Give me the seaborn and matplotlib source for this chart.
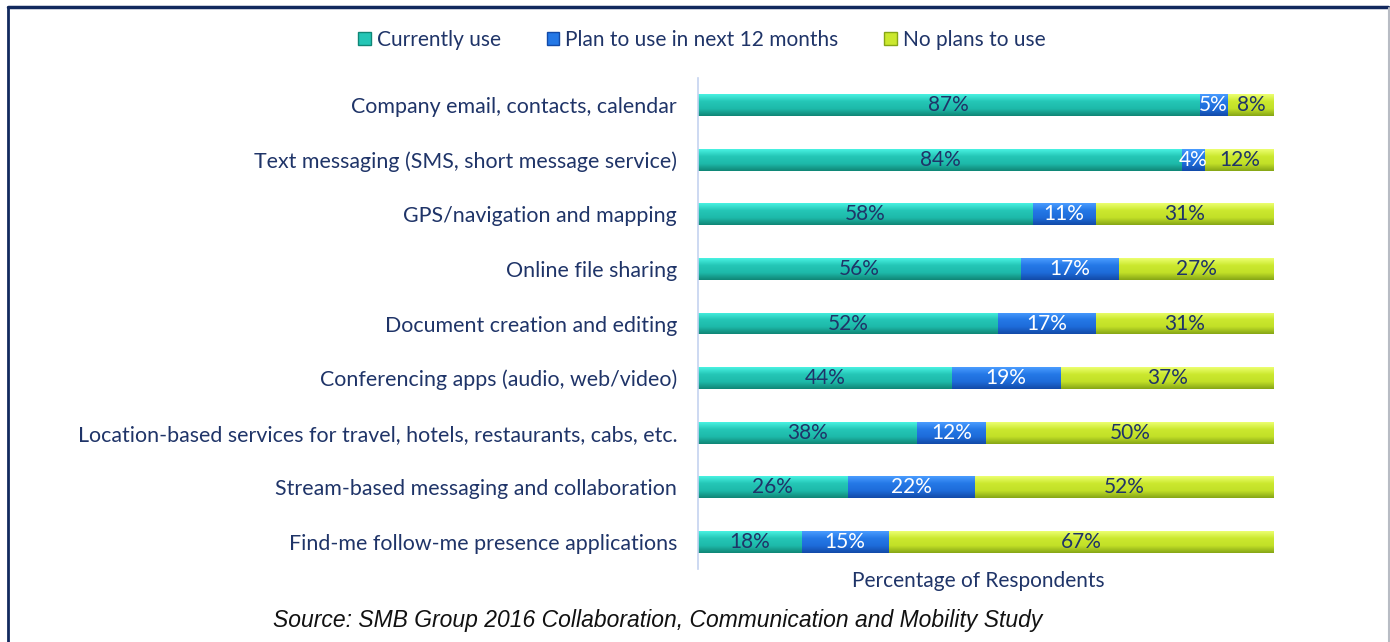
import numpy as np
import pandas as pd
import seaborn as sns
import matplotlib.pyplot as plt
from matplotlib.patches import Patch
from matplotlib.lines import Line2D
from matplotlib.colors import LinearSegmentedColormap

categories = [
    "Company email, contacts, calendar",
    "Text messaging (SMS, short message service)",
    "GPS/navigation and mapping",
    "Online file sharing",
    "Document creation and editing",
    "Conferencing apps (audio, web/video)",
    "Location-based services for travel, hotels, restaurants, cabs, etc.",
    "Stream-based messaging and collaboration",
    "Find-me follow-me presence applications",
]
currently_use = [87, 84, 58, 56, 52, 44, 38, 26, 18]
plan_to_use = [5, 4, 11, 17, 17, 19, 12, 22, 15]
no_plans = [8, 12, 31, 27, 31, 37, 50, 52, 67]
series_names = ["Currently use", "Plan to use in next 12 months", "No plans to use"]

TEAL = "#22C3B3"
BLUE = "#2274E0"
GREEN = "#C6E52C"
NAVY = "#1F3468"
# top -> middle -> bottom shades for the glossy look
shades = {
    GREEN: ["#ECFF70", "#CBE82E", "#C2E028", "#86A616"],
    BLUE: ["#4A9CFF", "#2478E6", "#1E6CDA", "#124AA8"],
    TEAL: ["#48F2E2", "#24C6B6", "#1EBAAA", "#108676"],
}

df = pd.DataFrame({"cat": categories, "cur": currently_use,
                   "plan": plan_to_use, "none": no_plans})
df["cum1"] = df["cur"]
df["cum2"] = df["cur"] + df["plan"]
df["cum3"] = df["cum2"] + df["none"]

sns.set_style("white")
plt.rcParams["font.family"] = ["Lato", "DejaVu Sans"]

fig = plt.figure(figsize=(13.9, 6.42), dpi=100)
ax = fig.add_axes([698 / 1390, 1 - 569 / 642, 576 / 1390, 491 / 642])

# stacked bars: draw the cumulative totals back to front
layers = [("cum3", GREEN), ("cum2", BLUE), ("cum1", TEAL)]
for col, c in layers:
    sns.barplot(data=df, x=col, y="cat", orient="h", color=c, width=0.4,
                linewidth=0, saturation=1, ax=ax)

# gradient fill clipped to each bar
for k, (container, (col, c)) in enumerate(zip(ax.containers, layers)):
    cmap = LinearSegmentedColormap.from_list(col, shades[c])
    grad = np.linspace(0, 1, 64).reshape(-1, 1)
    for p in container:
        x0, y0 = p.get_x(), p.get_y()
        x1, y1 = x0 + p.get_width(), y0 + p.get_height()
        im = ax.imshow(grad, cmap=cmap, aspect="auto", origin="upper",
                       extent=(x0, x1, y1, y0), zorder=1.1 + k * 0.1,
                       interpolation="bilinear")
        im.set_clip_path(p)

# value labels centred in each segment
for i, row in df.iterrows():
    ax.text(row["cur"] / 2, i, f"{row['cur']}%", ha="center", va="center",
            fontsize=15, color=NAVY, zorder=3)
    ax.text(row["cur"] + row["plan"] / 2, i, f"{row['plan']}%", ha="center",
            va="center", fontsize=15, color="white", zorder=3)
    ax.text(row["cum2"] + row["none"] / 2, i, f"{row['none']}%", ha="center",
            va="center", fontsize=15, color=NAVY, zorder=3)

ax.set_xlim(0, 100)
ax.set_ylim(8.5, -0.5)
ax.set_xticks([])
ax.set_ylabel("")
ax.set_xlabel("Percentage of Respondents", fontsize=15, color=NAVY)
ax.xaxis.set_label_coords((978 - 698) / 576, -0.005)
ax.xaxis.label.set_va("top")
ax.tick_params(axis="y", length=0, labelsize=15.4, labelcolor=NAVY, pad=15)
for side in ["top", "right", "bottom"]:
    ax.spines[side].set_visible(False)
ax.spines["left"].set_color("#C5D3F0")
ax.spines["left"].set_linewidth(1.2)

handles = [Patch(facecolor=shades[c][1], edgecolor=shades[c][3], label=n)
           for c, n in zip([TEAL, BLUE, GREEN], series_names)]
leg = fig.legend(handles=handles, loc="center", bbox_to_anchor=(0.505, 1 - 40 / 642),
                 ncol=3, frameon=False, fontsize=15, handlelength=0.6,
                 handleheight=0.6, handletextpad=0.3, columnspacing=2.2)
for t in leg.get_texts():
    t.set_color(NAVY)

fig.text(0.473, 1 - 620 / 642,
         "Source: SMB Group 2016 Collaboration, Communication and Mobility Study",
         ha="center", va="center", fontsize=16.5, style="italic",
         family=["Liberation Sans", "DejaVu Sans"], color="#111111")

# frame around the figure
fig.add_artist(Line2D([8 / 1390, 1388 / 1390], [1 - 7 / 642, 1 - 7 / 642],
                      transform=fig.transFigure, color="#12295E", linewidth=2.5))
fig.add_artist(Line2D([8 / 1390, 8 / 1390], [0, 1 - 7 / 642],
                      transform=fig.transFigure, color="#12295E", linewidth=2))
fig.add_artist(Line2D([1388.5 / 1390, 1388.5 / 1390], [0, 1 - 8 / 642],
                      transform=fig.transFigure, color="#B8BCC4", linewidth=1.5))

fig.savefig("out.png", dpi=100)
plt.close(fig)
